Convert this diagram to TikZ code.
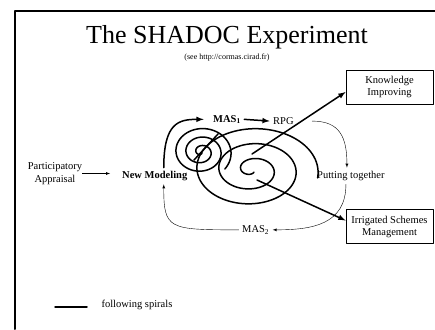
\documentclass[tikz,border=0pt]{standalone}
\usepackage{fontspec}
\setmainfont{Liberation Serif}
\begin{document}
\begin{tikzpicture}[>=latex,line join=round,line cap=round,x=1pt,y=-1pt,
	font=\fontsize{10.5}{13}\selectfont,
	box/.style={draw,line width=.8pt,minimum width=87pt,minimum height=34pt,align=center,font=\fontsize{10.5}{12}\selectfont},
	spiral/.style={line width=1.5pt},
	loop/.style={->,line width=.4pt,shorten >=0pt}]
	\useasboundingbox (0,0) rectangle (435,329);
	% frame
	\draw[line width=2pt] (435,11) -- (15,11) -- (15,329);
	\node[anchor=base] (title) at (227,43) {\fontsize{26}{28}\selectfont The SHADOC Experiment};
	\node[anchor=base] (url) at (227,59.5) {\fontsize{8}{9}\selectfont (see http://cormas.cirad.fr)};
	% boxes
	\node[box] (ki) at (389.5,87) {Knowledge\\Improving};
	\node[box] (isch) at (389.5,226.5) {Irrigated Schemes\\Management};
	% labels
	\node[align=center,inner sep=0pt] (pa) at (55,173.5) {Participatory\\Appraisal};
	\node[anchor=base west] (nm) at (118.7,178.5) {\textbf{New Modeling}};
	\node[anchor=base west] (mas1) at (209.7,122) {\textbf{MAS\textsubscript{1}}};
	\node[anchor=base west] (rpg) at (269.7,124.5) {RPG};
	\node[anchor=base west] (pt) at (313.7,178.5) {Putting together};
	\node[anchor=base west] (mas2) at (238.7,232.5) {MAS\textsubscript{2}};
	% spirals
	\path
	(252,154) coordinate (bigc)
	(257,180) coordinate (bigb)
	(194,160) coordinate (sc)
	(218,134) coordinate (se)
	;
	\draw[spiral,domain=60:1090,variable=\t,samples=300]
	plot ({252+\t/360*22*cos(\t)},{170+\t/360*15*sin(\t)});
	\draw[spiral,domain=40:1120,variable=\t,samples=300]
	plot ({201+\t/360*10*cos(\t)},{152+\t/360*8.5*sin(\t)});
	\draw[spiral] (sc) -- (se);
	% arrows
	\draw[->] (pa.east) -- ([xshift=-8.7pt]nm.west |- pa.east);
	\draw[spiral,->] ([xshift=9pt]nm.north) .. controls +(0,-45) and +(-25,0) .. ([xshift=-6pt]mas1.west);
	\draw[spiral,->] (mas1.east) -- (rpg.west);
	\draw[spiral,->] (bigc) -- ([yshift=-5pt]ki.west);
	\draw[spiral,->] (bigb) -- ([yshift=6pt]isch.west);
	\draw[loop] ([xshift=15pt]rpg.east) .. controls +(28,0) and +(0,-30) .. ([xshift=-4pt]pt.north);
	\draw[loop] ([xshift=-5pt]pt.south) .. controls +(0,40) and +(40,0) .. (mas2.east);
	\draw[loop] (mas2.west) .. controls +(-70,0) and +(0,45) .. ([xshift=9pt]nm.south);
	% legend
	\path (55,307) coordinate (lg1) (87,307) coordinate (lg2);
	\draw[spiral] (lg1) -- (lg2);
	\node[anchor=base west] (lgtext) at (98,307.5) {following spirals};
\end{tikzpicture}
\end{document}
